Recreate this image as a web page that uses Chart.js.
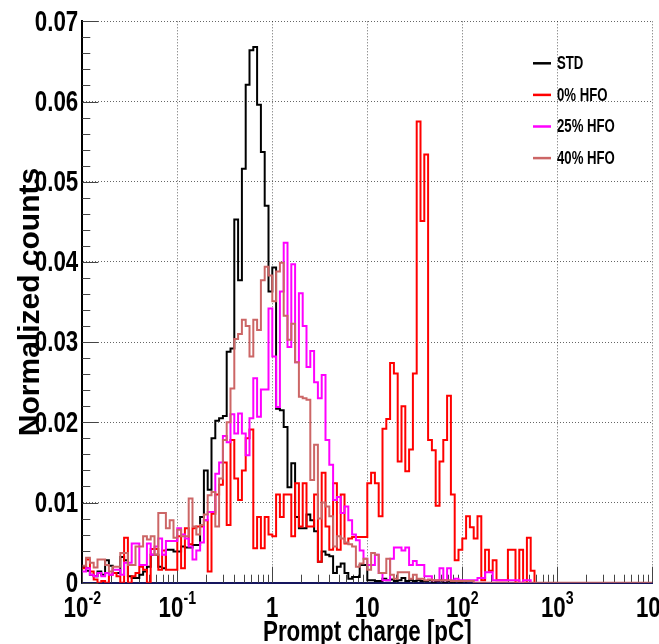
<!DOCTYPE html>
<html lang="en">
<head>
  <meta charset="UTF-8">
  <title>Prompt charge</title>
  <script src="https://cdn.jsdelivr.net/npm/chart.js"></script>
  <style>
    html, body { margin: 0; padding: 0; background: #fff; overflow: hidden; }
    canvas { display: block; }
  </style>
</head>
<body>
  <canvas id="chargeChart" width="659" height="644"></canvas>

  <script>
    // histogram binning: 25 log bins per decade, from 1e-2 to 1e4
    const binLow = 0.01;
    const binsPerDecade = 25;
    const nBins = 150;

    const seriesNames = ['STD', '0% HFO', '25% HFO', '40% HFO'];
    const seriesColors = ['#000000', '#ff0000', '#ff00ff', '#cc6666'];

    // bin contents (normalized counts)
    const std = [
      0.0020, 0.0015, 0.0010, 0.0008, 0.0014, 0.0010, 0.0028, 0.0021, 0.0012, 0.0012,
      0.0032, 0.0028, 0.0008, 0.0006, 0.0006, 0.0010, 0.0014, 0.0020, 0.0035, 0.0035,
      0.0020, 0.0018, 0.0041, 0.0041, 0.0039, 0.0039, 0.0045, 0.0044, 0.0044, 0.0047,
      0.0047, 0.0082, 0.0140, 0.0116, 0.0180, 0.0202, 0.0205, 0.0208, 0.0288, 0.0292,
      0.0453, 0.0377, 0.0516, 0.0621, 0.0664, 0.0668, 0.0596, 0.0537, 0.0470, 0.0363,
      0.0393, 0.0217, 0.0215, 0.0194, 0.0119, 0.0149, 0.0082, 0.0068, 0.0068, 0.0085,
      0.0078, 0.0064, 0.0026, 0.0039, 0.0035, 0.0033, 0.0012, 0.0020, 0.0024, 0.0012,
      0.0005, 0.0007, 0.0007, 0.0022, 0.0022, 0.0003, 0.0003, 0.0002, 0.0002, 0.0005,
      0.0003, 0.0004, 0.0002, 0.0003, 0.0006, 0.0002, 0.0003, 0.0002, 0.0003, 0.0002,
      0.0002, 0.0003, 0.0000, 0.0002, 0.0003, 0.0000, 0.0002, 0.0000, 0.0002, 0.0000,
      0.0002
    ];

    const hfo0 = [
      0.0018, 0.0029, 0.0014, 0.0004, 0.0000, 0.0002, 0.0000, 0.0010, 0.0012, 0.0008,
      0.0000, 0.0056, 0.0000, 0.0008, 0.0012, 0.0020, 0.0016, 0.0000, 0.0042, 0.0042,
      0.0016, 0.0040, 0.0016, 0.0016, 0.0016, 0.0058, 0.0018, 0.0068, 0.0048, 0.0068,
      0.0070, 0.0070, 0.0078, 0.0014, 0.0086, 0.0110, 0.0122, 0.0150, 0.0072, 0.0178,
      0.0130, 0.0103, 0.0140, 0.0180, 0.0191, 0.0043, 0.0082, 0.0043, 0.0082, 0.0060,
      0.0058, 0.0110, 0.0082, 0.0110, 0.0110, 0.0058, 0.0124, 0.0070, 0.0124, 0.0070,
      0.0070, 0.0110, 0.0026, 0.0137, 0.0070, 0.0041, 0.0124, 0.0041, 0.0110, 0.0049,
      0.0055, 0.0057, 0.0057, 0.0057, 0.0057, 0.0124, 0.0137, 0.0124, 0.0083, 0.0192,
      0.0204, 0.0274, 0.0261, 0.0151, 0.0220, 0.0139, 0.0166, 0.0261, 0.0575, 0.0451,
      0.0534, 0.0178, 0.0165, 0.0096, 0.0151, 0.0178, 0.0233, 0.0110, 0.0028, 0.0041,
      0.0055, 0.0083, 0.0069, 0.0055, 0.0083, 0.0003, 0.0041, 0.0015, 0.0028, 0.0003,
      0.0003, 0.0003, 0.0041, 0.0041, 0.0000, 0.0041, 0.0000, 0.0056, 0.0015
    ];

    const hfo25 = [
      0.0014, 0.0018, 0.0010, 0.0008, 0.0012, 0.0008, 0.0012, 0.0010, 0.0016, 0.0016,
      0.0010, 0.0025, 0.0025, 0.0049, 0.0049, 0.0022, 0.0022, 0.0049, 0.0035, 0.0045,
      0.0055, 0.0035, 0.0052, 0.0052, 0.0052, 0.0068, 0.0060, 0.0055, 0.0045, 0.0029,
      0.0040, 0.0050, 0.0078, 0.0088, 0.0088, 0.0136, 0.0150, 0.0183, 0.0175, 0.0210,
      0.0186, 0.0211, 0.0186, 0.0159, 0.0205, 0.0255, 0.0207, 0.0241, 0.0241, 0.0342,
      0.0282, 0.0219, 0.0363, 0.0424, 0.0294, 0.0397, 0.0275, 0.0361, 0.0320, 0.0269,
      0.0289, 0.0250, 0.0230, 0.0259, 0.0178, 0.0147, 0.0103, 0.0107, 0.0087, 0.0095,
      0.0078, 0.0060, 0.0053, 0.0040, 0.0030, 0.0022, 0.0022, 0.0035, 0.0012, 0.0003,
      0.0003, 0.0030, 0.0044, 0.0044, 0.0040, 0.0044, 0.0022, 0.0027, 0.0022, 0.0022,
      0.0008, 0.0008, 0.0003, 0.0003, 0.0018, 0.0003, 0.0018, 0.0003, 0.0005, 0.0003,
      0.0003, 0.0003, 0.0003, 0.0003, 0.0006, 0.0006, 0.0013, 0.0013, 0.0003, 0.0003,
      0.0003, 0.0003, 0.0003, 0.0003, 0.0003, 0.0000, 0.0003, 0.0003
    ];

    // bins after the last entry are empty up to 1e4
    const hfo40 = [
      0.0021, 0.0031, 0.0025, 0.0019, 0.0029, 0.0029, 0.0022, 0.0014, 0.0020, 0.0020,
      0.0037, 0.0037, 0.0022, 0.0022, 0.0045, 0.0045, 0.0058, 0.0054, 0.0058, 0.0035,
      0.0087, 0.0087, 0.0068, 0.0078, 0.0056, 0.0066, 0.0058, 0.0058, 0.0105, 0.0070,
      0.0060, 0.0072, 0.0085, 0.0109, 0.0113, 0.0070, 0.0130, 0.0178, 0.0200, 0.0242,
      0.0304, 0.0310, 0.0328, 0.0320, 0.0282, 0.0328, 0.0315, 0.0377, 0.0394, 0.0383,
      0.0351, 0.0388, 0.0399, 0.0333, 0.0303, 0.0323, 0.0275, 0.0232, 0.0230, 0.0228,
      0.0128, 0.0172, 0.0080, 0.0100, 0.0095, 0.0083, 0.0045, 0.0058, 0.0055, 0.0050,
      0.0048, 0.0045, 0.0020, 0.0024, 0.0030, 0.0016, 0.0037, 0.0035, 0.0012, 0.0012,
      0.0030, 0.0010, 0.0005, 0.0013, 0.0013, 0.0013, 0.0005, 0.0010, 0.0005, 0.0005,
      0.0003, 0.0004, 0.0003, 0.0003, 0.0003, 0.0003, 0.0003, 0.0002, 0.0002, 0.0002,
      0.0002, 0.0002, 0.0002
    ];

    const yTickValues = [0, 0.01, 0.02, 0.03, 0.04, 0.05, 0.06, 0.07];
    const xDecades = [-2, -1, 0, 1, 2, 3, 4];

    const FONT = "'Liberation Sans', Arial, Helvetica, sans-serif";
    const SQUEEZE = 0.745; // the original figure is squashed sideways

    function binEdge(i) {
      return binLow * Math.pow(10, i / binsPerDecade);
    }

    // step points at lower bin edges + a closing point at the last upper edge
    function histPoints(values, toEnd) {
      const n = toEnd ? nBins : values.length;
      const pts = [];
      for (let i = 0; i < n; i++) {
        pts.push({ x: binEdge(i), y: i < values.length ? values[i] : 0 });
      }
      pts.push({ x: binEdge(n), y: 0 });
      return pts;
    }

    function squeezedText(ctx, text, x, y, align) {
      ctx.save();
      ctx.translate(x, y);
      ctx.scale(SQUEEZE, 1);
      ctx.textAlign = align;
      ctx.fillText(text, 0, 0);
      ctx.restore();
    }

    function squeezedWidth(ctx, text) {
      return ctx.measureText(text).width * SQUEEZE;
    }

    // ROOT-like inner tick marks, tick labels, x title and legend
    const rootFrame = {
      id: 'rootFrame',
      beforeDatasetsDraw(chart) {
        const { ctx, chartArea } = chart;
        const xs = chart.scales.x, ys = chart.scales.y;
        ctx.save();
        ctx.strokeStyle = '#444';
        ctx.lineWidth = 1;
        ctx.beginPath();
        for (let k = 0; k <= 35; k++) {
          const v = k * 0.002;
          const py = Math.round(ys.getPixelForValue(v)) + 0.5;
          const len = k % 5 === 0 ? 16 : 8;
          ctx.moveTo(chartArea.left, py);
          ctx.lineTo(chartArea.left + len, py);
        }
        for (const d of xDecades) {
          for (let m = 1; m <= 9; m++) {
            const v = m * Math.pow(10, d);
            if (v > 10000 * 1.0001) break;
            const px = Math.round(xs.getPixelForValue(v)) + 0.5;
            const len = m === 1 ? 16 : 8;
            ctx.moveTo(px, chartArea.bottom);
            ctx.lineTo(px, chartArea.bottom - len);
          }
        }
        ctx.stroke();
        ctx.restore();
      },
      afterDraw(chart) {
        const { ctx, chartArea } = chart;
        const xs = chart.scales.x, ys = chart.scales.y;
        ctx.save();
        ctx.fillStyle = '#000';

        // y tick labels
        ctx.font = 'bold 30px ' + FONT;
        ctx.textBaseline = 'middle';
        for (const v of yTickValues) {
          const label = v === 0 ? '0' : v.toFixed(2);
          squeezedText(ctx, label, chartArea.left - 4, ys.getPixelForValue(v) + 1, 'right');
        }

        // x tick labels with exponents
        ctx.textBaseline = 'alphabetic';
        for (const d of xDecades) {
          const px = xs.getPixelForValue(Math.pow(10, d));
          const base = d === 0 ? '1' : '10';
          const exp = (d === 0 || d === 1) ? '' : String(d);
          ctx.font = 'bold 30px ' + FONT;
          const bw = squeezedWidth(ctx, base);
          ctx.font = 'bold 19px ' + FONT;
          const ew = exp ? squeezedWidth(ctx, exp) : 0;
          const x0 = px - (bw + ew) / 2;
          ctx.font = 'bold 30px ' + FONT;
          squeezedText(ctx, base, x0, 617, 'left');
          if (exp) {
            ctx.font = 'bold 19px ' + FONT;
            squeezedText(ctx, exp, x0 + bw, 604, 'left');
          }
        }

        // x axis title
        ctx.font = 'bold 30px ' + FONT;
        squeezedText(ctx, 'Prompt charge [pC]', (chartArea.left + chartArea.right) / 2, 641, 'center');

        // legend
        ctx.font = 'bold 17.7px ' + FONT;
        ctx.textBaseline = 'middle';
        seriesNames.forEach((name, i) => {
          const y = 63.3 + i * 31.6;
          ctx.strokeStyle = seriesColors[i];
          ctx.lineWidth = 2.5;
          ctx.beginPath();
          ctx.moveTo(533, y);
          ctx.lineTo(551, y);
          ctx.stroke();
          ctx.fillStyle = '#000';
          squeezedText(ctx, name, 557, y + 1, 'left');
        });
        ctx.restore();
      }
    };

    const allSeries = [std, hfo0, hfo25, hfo40];

    new Chart(document.getElementById('chargeChart'), {
      type: 'line',
      data: {
        datasets: allSeries.map((vals, i) => ({
          label: seriesNames[i],
          data: histPoints(vals, i === 3),
          borderColor: seriesColors[i],
          borderWidth: 2,
          pointRadius: 0,
          fill: false,
          stepped: true,
          tension: 0,
          order: 4 - i
        }))
      },
      options: {
        responsive: false,
        animation: false,
        devicePixelRatio: 1,
        events: [],
        layout: {
          autoPadding: false,
          padding: { left: 0, right: 6.7, top: 21.3, bottom: 0 }
        },
        scales: {
          x: {
            type: 'logarithmic',
            min: 0.01,
            max: 10000,
            afterBuildTicks: (scale) => {
              scale.ticks = xDecades.map(d => ({ value: Math.pow(10, d), major: true }));
            },
            afterFit: (scale) => { scale.height = 61.3; },
            ticks: { display: false },
            grid: { color: 'rgba(0,0,0,0.6)', lineWidth: 1, drawTicks: false },
            border: { color: '#15155e', width: 2, dash: [1, 2] }
          },
          y: {
            min: 0,
            max: 0.07,
            afterBuildTicks: (scale) => {
              scale.ticks = yTickValues.map(v => ({ value: v }));
            },
            afterFit: (scale) => { scale.width = 82.3; },
            ticks: { display: false },
            grid: { color: 'rgba(0,0,0,0.6)', lineWidth: 1, drawTicks: false },
            border: { color: '#000', width: 2, dash: [1, 2] },
            title: {
              display: true,
              text: 'Normalized counts',
              color: '#000',
              font: { family: FONT, size: 30, weight: 'bold', lineHeight: 1.2 },
              padding: { top: 13, bottom: 0 }
            }
          }
        },
        plugins: {
          legend: { display: false },
          tooltip: { enabled: false }
        }
      },
      plugins: [rootFrame]
    });
  </script>
</body>
</html>
